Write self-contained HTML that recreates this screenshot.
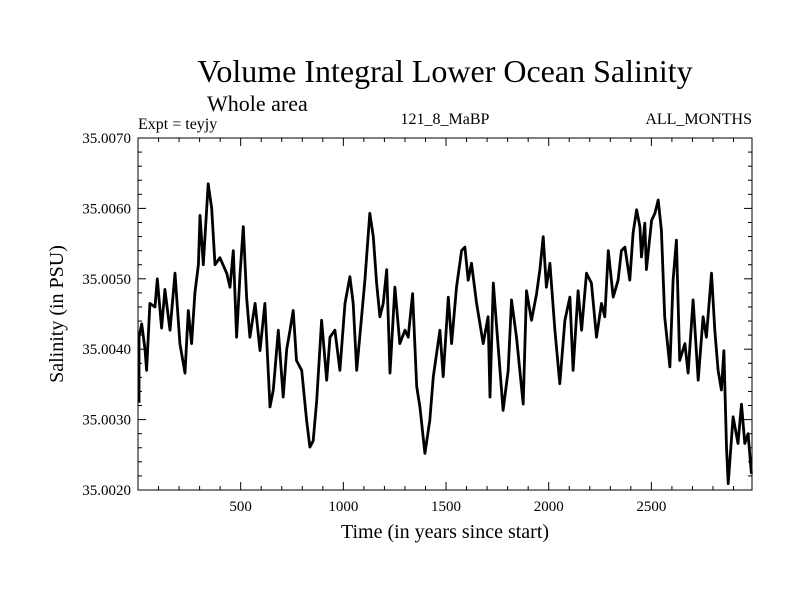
<!DOCTYPE html>
<html><head><meta charset="utf-8"><style>
body{margin:0;background:#fff}
svg{display:block;font-family:"Liberation Serif",serif}
</style></head><body>
<svg id="chart" width="800" height="600" viewBox="0 0 800 600">
<text x="445" y="82" font-size="32" text-anchor="middle">Volume Integral Lower Ocean Salinity</text>
<text x="207" y="111" font-size="22">Whole area</text>
<text x="138" y="129" font-size="16">Expt = teyjy</text>
<text x="445" y="124" font-size="16" text-anchor="middle">121_8_MaBP</text>
<text x="752" y="124" font-size="16" text-anchor="end">ALL_MONTHS</text>
<text x="445" y="538" font-size="20" text-anchor="middle">Time (in years since start)</text>
<text x="0" y="0" font-size="20" text-anchor="middle" transform="translate(63,314) rotate(-90)">Salinity (in PSU)</text>
<g id="axes"></g>
<g id="series"></g>
</svg>
<script>
const years=[5,5,18,34,42,58,83,94,115,131,156,180,204,229,245,261,277,294,302,318,342,359,375,399,432,448,464,480,497,513,529,545,570,594,618,643,659,683,707,724,740,756,772,797,821,837,853,870,894,919,935,959,983,1008,1032,1048,1065,1089,1105,1129,1146,1162,1178,1194,1211,1227,1251,1275,1300,1316,1337,1357,1373,1397,1421,1438,1470,1486,1511,1527,1551,1576,1592,1608,1624,1649,1681,1705,1714,1730,1754,1778,1803,1819,1843,1876,1892,1916,1941,1957,1973,1989,2006,2030,2054,2079,2103,2119,2143,2160,2184,2208,2233,2257,2273,2290,2314,2338,2354,2371,2395,2411,2428,2444,2452,2468,2476,2501,2517,2533,2549,2565,2590,2606,2622,2638,2663,2679,2703,2728,2752,2768,2793,2809,2825,2841,2853,2866,2874,2898,2922,2939,2955,2971,2987];
const salinity=[32.4,41.7,43.6,40,37,46.5,46,50,43,48.5,42.7,50.8,40.8,36.6,45.5,40.8,48,52,59,52,63.5,60,52,53,50.8,48.8,54,41.7,50.8,57.4,47.4,41.7,46.5,39.8,46.5,31.8,34.2,42.7,33.2,40,42.7,45.5,38.4,37,29.9,26.1,27,32.7,44.1,35.6,41.7,42.7,37,46.5,50.3,46.5,37,44.6,49.8,59.3,56,49.4,44.6,46.5,51.3,36.6,48.8,40.8,42.7,41.7,47.9,34.7,31.8,25.2,29.9,36.1,42.7,36.1,47.4,40.8,48.8,54,54.5,49.8,52.2,46.5,40.8,44.6,33.2,49.4,40.3,31.3,37,47,41.7,32.2,48.3,44.1,47.9,51.3,56,48.8,52.2,42.7,35.1,44.1,47.4,37,48.3,42.7,50.8,49.4,41.7,46.5,44.6,54,47.4,49.8,54,54.5,49.8,56.5,59.8,57.4,53.1,57.9,51.3,58.3,59.3,61.2,56.9,44.6,37.5,49.8,55.5,38.4,40.8,36.6,47,35.6,44.6,41.7,50.8,42.7,37,34.2,39.8,26.1,20.9,30.4,26.6,32.2,26.6,28,22.3];
const xTickLabels=["500","1000","1500","2000","2500"];
const yTickLabels=["35.0020","35.0030","35.0040","35.0050","35.0060","35.0070"];
const L=138,R=752,T=138,B=490,XMAX=2990;
const sx=v=>L+(v/XMAX)*(R-L);
const sy=v=>B-((v-20)/50)*(B-T);
const NS="http://www.w3.org/2000/svg";
const ax=document.getElementById('axes');
function mk(tag,attrs,parent){const e=document.createElementNS(NS,tag);for(const k in attrs)e.setAttribute(k,attrs[k]);parent.appendChild(e);return e;}
const frame=mk('rect',{x:L,y:T,width:R-L,height:B-T,fill:'none',stroke:'#000','stroke-width':1},ax);


for(let yr=100;yr<XMAX;yr+=100){const x=sx(yr);const len=yr%500===0?8:4;
 const t1=mk('line',{x1:x,x2:x,y1:B,y2:B-len,stroke:'#000'},ax);
 
 
 const t2=mk('line',{x1:x,x2:x,y1:T,y2:T+len,stroke:'#000'},ax);
 
 }
xTickLabels.forEach(s=>{const t=mk('text',{x:sx(+s),y:511,'font-size':15,'text-anchor':'middle'},ax);t.textContent=s;
 
 });
for(let v=22;v<70;v+=2){const y=sy(v);const len=v%10===0?8:4;
 const t1=mk('line',{x1:L,x2:L+len,y1:y,y2:y,stroke:'#000'},ax);
 
 
 const t2=mk('line',{x1:R,x2:R-len,y1:y,y2:y,stroke:'#000'},ax);
 
 }
yTickLabels.forEach(s=>{const v=(parseFloat(s)-35)*10000;const t=mk('text',{x:131,y:sy(v)+5,'font-size':15,'text-anchor':'end'},ax);t.textContent=s;
 
 });
const d=years.map((yr,i)=>(i?'L':'M')+sx(yr).toFixed(1)+','+sy(salinity[i]).toFixed(1)).join(' ');
const p=mk('path',{d:d,fill:'none',stroke:'#000','stroke-width':2.8,'stroke-linejoin':'round'},document.getElementById('series'));


</script>
</body></html>
